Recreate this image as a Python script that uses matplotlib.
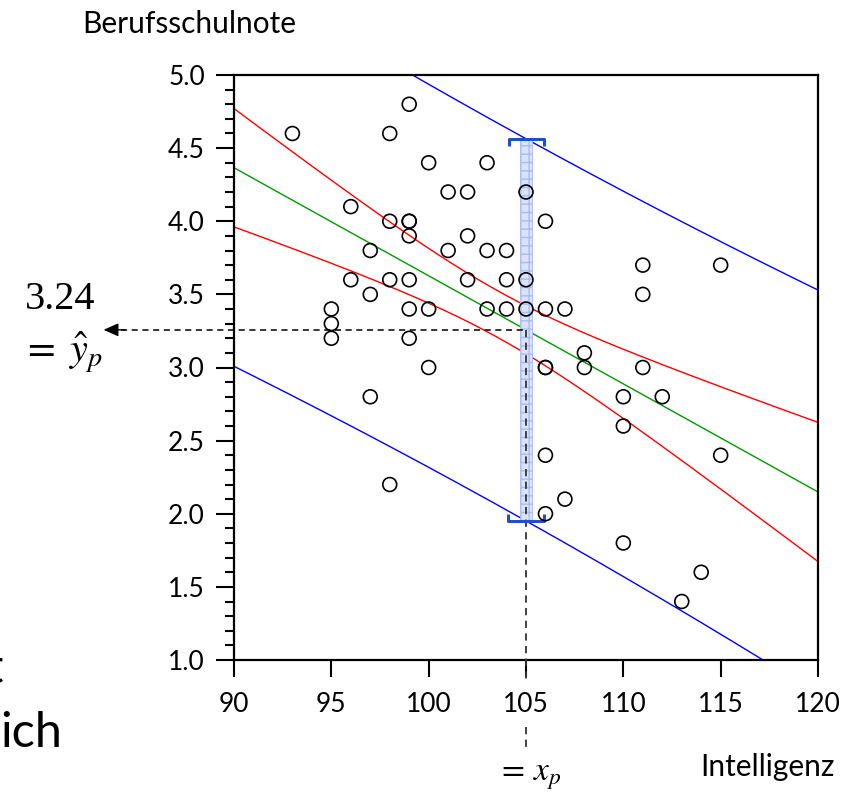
import numpy as np
import matplotlib.pyplot as plt
from matplotlib.patches import Rectangle
from matplotlib.ticker import MultipleLocator

#------------------
# Data
#------------------

intelligenz = [93,
               95, 95, 95,
               96, 96,
               97, 97, 97,
               98, 98, 98, 98,
               99, 99, 99, 99, 99, 99, 99,
               100, 100, 100,
               101, 101,
               102, 102, 102,
               103, 103, 103,
               104, 104, 104,
               105, 105, 105,
               106, 106, 106, 106, 106, 106,
               107, 107,
               108, 108,
               110, 110, 110,
               111, 111, 111,
               112, 113, 114,
               115, 115]
note = [4.6,
        3.4, 3.3, 3.2,
        4.1, 3.6,
        3.8, 3.5, 2.8,
        4.6, 4.0, 3.6, 2.2,
        4.8, 4.0, 4.0, 3.9, 3.6, 3.4, 3.2,
        4.4, 3.4, 3.0,
        4.2, 3.8,
        4.2, 3.9, 3.6,
        4.4, 3.8, 3.4,
        3.8, 3.6, 3.4,
        4.2, 3.6, 3.4,
        4.0, 3.4, 3.0, 3.0, 2.4, 2.0,
        3.4, 2.1,
        3.1, 3.0,
        2.8, 2.6, 1.8,
        3.7, 3.5, 3.0,
        2.8, 1.4, 1.6,
        3.7, 2.4]

# regression summary
b0 = 11.017       # intercept
b1 = -0.0739      # slope
s_res = 0.649     # residual standard error
n_obs = 66
x_mean = 103.6
sxx = 2250.0
t_crit = 1.997

x_p = 105
y_hat_label = '3.24'

x_ticks = [90, 95, 100, 105, 110, 115, 120]
y_ticks = [1.0, 1.5, 2.0, 2.5, 3.0, 3.5, 4.0, 4.5, 5.0]

#------------------
# Bands
#------------------

x = np.array(intelligenz, float)
y = np.array(note, float)

def half_width(xv, pred=False):
    extra = 1.0 if pred else 0.0
    return t_crit * s_res * np.sqrt(extra + 1 / n_obs + (xv - x_mean) ** 2 / sxx)

xs = np.linspace(89, 121, 400)
fit = b0 + b1 * xs
h_conf = half_width(xs)
h_pred = half_width(xs, pred=True)

y_hat_p = b0 + b1 * x_p
pred_lo = y_hat_p - half_width(x_p, pred=True)
pred_hi = y_hat_p + half_width(x_p, pred=True)

#------------------
# Plot
#------------------

W, H = 858, 799
fig = plt.figure(figsize=(W / 100, H / 100), dpi=100)
ax = fig.add_axes([234 / W, 1 - 660 / H, (818 - 234) / W, (660 - 75) / H])

font = 'Lato'

ax.plot(xs, fit, color='#009900', lw=1.0)
ax.plot(xs, fit + h_conf, color='#ff0000', lw=1.0)
ax.plot(xs, fit - h_conf, color='#ff0000', lw=1.0)
ax.plot(xs, fit + h_pred, color='#0000ff', lw=1.0)
ax.plot(xs, fit - h_pred, color='#0000ff', lw=1.0)

# prediction interval at x_p
ax.add_patch(Rectangle((x_p - 0.3, pred_lo), 0.6, pred_hi - pred_lo,
                       facecolor='#dae3f9', edgecolor='#a9bdf0', lw=0.6,
                       hatch='++', zorder=2))
cap = '#2050c8'
ax.plot([x_p - 0.85, x_p - 0.85, x_p + 0.95, x_p + 0.95],
        [pred_hi - 0.05, pred_hi, pred_hi, pred_hi - 0.05],
        color=cap, lw=2.2, zorder=4, solid_capstyle='butt')
ax.plot([x_p - 0.9, x_p - 0.9, x_p + 0.9, x_p + 0.9],
        [pred_lo + 0.05, pred_lo, pred_lo, pred_lo + 0.05],
        color=cap, lw=2.2, zorder=4, solid_capstyle='butt')

ax.scatter(x, y, s=100, facecolors='none', edgecolors='black',
           linewidths=1.2, zorder=5)

# dashed guides
dash = (0, (4, 3))
ax.plot([84.2, x_p], [y_hat_p, y_hat_p], color='black', lw=1.1,
        ls=dash, clip_on=False, zorder=3)
ax.annotate('', xy=(83.3, y_hat_p), xytext=(84.4, y_hat_p),
            arrowprops=dict(arrowstyle='-|>,head_length=0.9,head_width=0.4',
                            color='black', lw=1.0, shrinkA=0, shrinkB=0),
            annotation_clip=False)
ax.plot([x_p, x_p], [y_hat_p, 0.843], color='#333333', lw=1.3,
        ls=dash, clip_on=False, zorder=3)
ax.plot([x_p, x_p], [0.545, 0.40], color='#333333', lw=1.3,
        ls=dash, clip_on=False, zorder=3)

ax.set_xlim(90, 120)
ax.set_ylim(1, 5)
ax.set_xticks(x_ticks)
ax.set_yticks(y_ticks)
ax.set_xticklabels([str(v) for v in x_ticks], fontfamily=font, fontsize=19)
ax.set_yticklabels([f'{v:.1f}' for v in y_ticks], fontfamily=font, fontsize=19)
ax.yaxis.set_minor_locator(MultipleLocator(0.1))
ax.tick_params(axis='y', which='major', length=13, width=1.5, pad=8)
ax.tick_params(axis='y', which='minor', length=6.5, width=1.5)
ax.tick_params(axis='x', which='major', length=12, width=1.5, pad=11)
for sp in ax.spines.values():
    sp.set_linewidth(1.6)

# texts
fig.text(82 / W, 1 - 33 / H, 'Berufsschulnote', fontfamily=font,
         fontsize=21.5, va='baseline', ha='left')
fig.text(700 / W, 1 - 776 / H, 'Intelligenz', fontfamily=font,
         fontsize=21.5, va='baseline', ha='left')

plt.rcParams['mathtext.fontset'] = 'stix'
fig.text(25 / W, 1 - 309 / H, y_hat_label, fontfamily='Liberation Serif',
         fontsize=29, va='baseline', ha='left')
fig.text(22 / W, 1 - 352 / H, r'$=\;\hat{y}_p$', fontsize=29,
         va='center', ha='left')
fig.text(497 / W, 1 - 775 / H, r'$=\,x_p$', fontsize=24,
         va='center', ha='left')

fig.text(0, 1 - 747 / H, 'ich', fontfamily=font, fontsize=35,
         va='baseline', ha='left')
fig.text(-14 / W, 1 - 683 / H, 't', fontfamily=font, fontsize=35,
         va='baseline', ha='left')

fig.savefig('out.png', dpi=100)
